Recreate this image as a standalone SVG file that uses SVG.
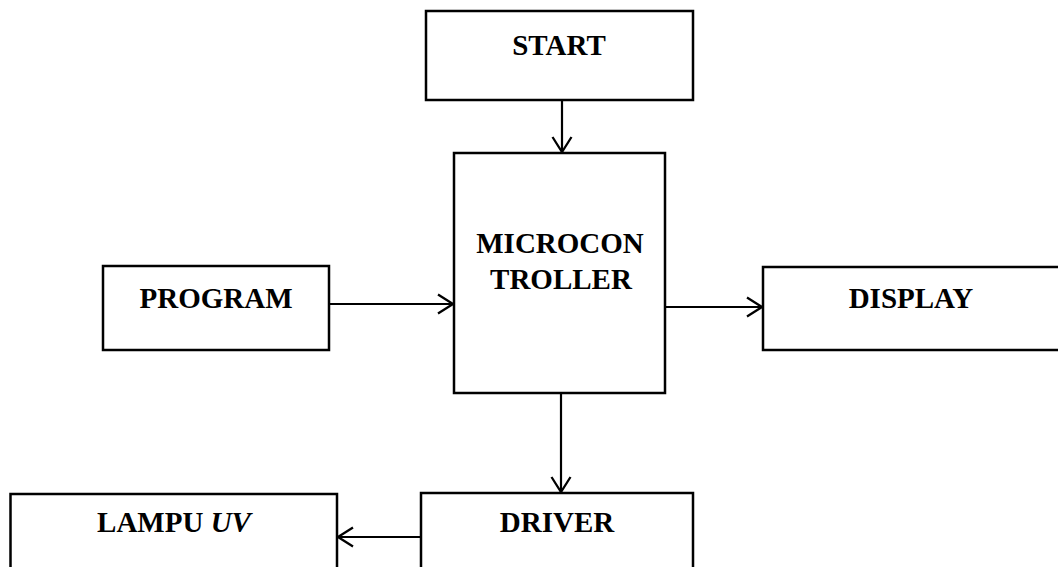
<svg xmlns="http://www.w3.org/2000/svg" width="1058" height="567" viewBox="0 0 1058 567">
  <style>
    .box { fill: #fff; stroke: #000; stroke-width: 2.5; }
    .lbl { font-family: "Liberation Serif", "Times New Roman", serif; font-weight: bold; font-size: 29px; fill: #000; text-anchor: middle; }
    .wire { fill: none; stroke: #000; stroke-width: 2.2; }
  </style>
  <defs>
    <!-- open chevron arrowhead -->
    <marker id="open" viewBox="0 0 17 22" refX="16" refY="11" markerWidth="17" markerHeight="22" markerUnits="userSpaceOnUse" orient="auto">
      <path d="M1,1.5 L16,11 L1,20.5" fill="none" stroke="#000" stroke-width="2.3"/>
    </marker>
  </defs>
  <rect width="1058" height="567" fill="#fff"/>

  <g id="start">
    <rect class="box" x="426" y="11" width="267" height="89"/>
    <text class="lbl" x="559" y="55">START</text>
  </g>
  <g id="microcontroller">
    <rect class="box" x="454" y="153" width="211" height="240"/>
    <text class="lbl" x="560" y="253">MICROCON</text>
    <text class="lbl" x="561" y="289">TROLLER</text>
  </g>
  <g id="program">
    <rect class="box" x="103" y="266" width="226" height="84"/>
    <text class="lbl" x="216" y="308">PROGRAM</text>
  </g>
  <g id="display">
    <rect class="box" x="763" y="267" width="310" height="83"/>
    <text class="lbl" x="911" y="308">DISPLAY</text>
  </g>
  <g id="driver">
    <rect class="box" x="421" y="493" width="272" height="90"/>
    <text class="lbl" x="557" y="532">DRIVER</text>
  </g>
  <g id="lampu-uv">
    <rect class="box" x="10.5" y="494" width="326.5" height="90"/>
    <text class="lbl" x="174" y="532">LAMPU <tspan font-style="italic">UV</tspan></text>
  </g>

  <g id="connectors">
    <line class="wire" x1="562" y1="100" x2="562" y2="152" marker-end="url(#open)"/>
    <line class="wire" x1="329" y1="304" x2="453" y2="304" marker-end="url(#open)"/>
    <line class="wire" x1="665" y1="307" x2="762" y2="307" marker-end="url(#open)"/>
    <line class="wire" x1="561" y1="393" x2="561" y2="492" marker-end="url(#open)"/>
    <line class="wire" x1="421" y1="537" x2="338" y2="537" marker-end="url(#open)"/>
  </g>
</svg>
